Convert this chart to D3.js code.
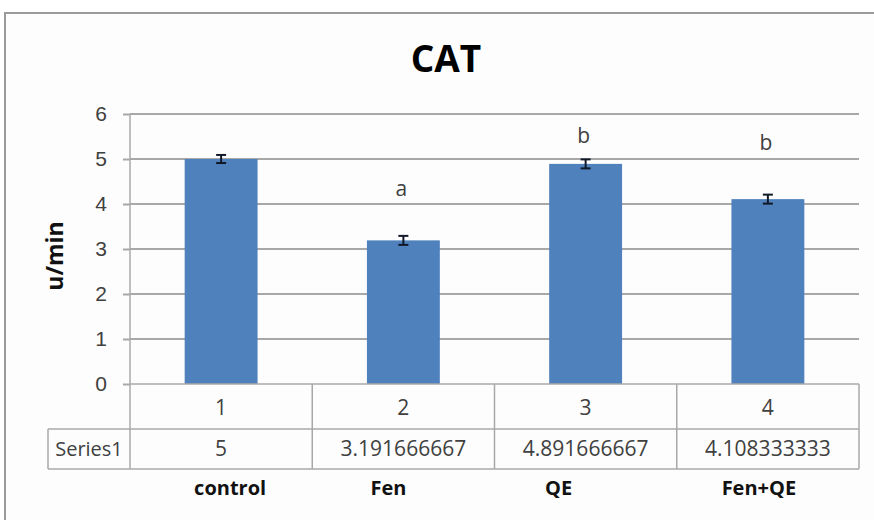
<!DOCTYPE html>
<html>
<head>
<meta charset="utf-8">
<script src="https://cdn.jsdelivr.net/npm/d3@7"></script>
<style>
  html, body { margin: 0; padding: 0; background: #fff; overflow: hidden; }
  svg { display: block; font-family: "Open Sans", "Liberation Sans", sans-serif; }
</style>
</head>
<body>
<svg id="chart" width="874" height="520"></svg>
<script>
// chart data
const categories = ["1", "2", "3", "4"];
const groupNames = ["control", "Fen", "QE", "Fen+QE"];
const seriesName = "Series1";
const values = [5, 3.191666667, 4.891666667, 4.108333333];
const valueLabels = ["5", "3.191666667", "4.891666667", "4.108333333"];
const errors = [0.09, 0.1, 0.1, 0.1];
const letters = ["", "a", "b", "b"];
const letterAt = [null, 4.18, 5.36, 5.2];
const yTicks = [0, 1, 2, 3, 4, 5, 6];

const svg = d3.select("#chart");
const W = 874, H = 520;
const plotLeft = 130, plotRight = 859, plotTop = 114, plotBottom = 384;
const rowMid = 429, rowEnd = 469, tableLeft = 48;
const gridColor = "#a8a8a8";
const textColor = "#404040";

// chart area background; the frame shows only on the left and top in this crop
svg.append("rect")
    .attr("x", 5).attr("y", 13)
    .attr("width", W - 5).attr("height", H - 13)
    .attr("fill", "#fdfdfd");
svg.append("line")
    .attr("x1", 5).attr("x2", 5).attr("y1", 12).attr("y2", H)
    .attr("stroke", "#9a9a9a").attr("stroke-width", 2);
svg.append("line")
    .attr("x1", 4).attr("x2", W).attr("y1", 13).attr("y2", 13)
    .attr("stroke", "#9a9a9a").attr("stroke-width", 2);

const x = d3.scaleBand()
    .domain(categories)
    .range([plotLeft, plotRight])
    .paddingInner(0.6)
    .paddingOuter(0.3);

const y = d3.scaleLinear().domain([0, 6]).range([plotBottom, plotTop]);

// gridlines
svg.append("g")
    .selectAll("line")
    .data(yTicks.filter(d => d > 0))
    .join("line")
    .attr("x1", plotLeft).attr("x2", plotRight)
    .attr("y1", d => y(d)).attr("y2", d => y(d))
    .attr("stroke", gridColor)
    .attr("stroke-width", 2);

// y axis
const yAxis = svg.append("g")
    .attr("transform", `translate(${plotLeft},0)`)
    .call(d3.axisLeft(y).tickValues(yTicks).tickSize(7).tickPadding(16).tickFormat(d3.format("d")));
yAxis.select(".domain").remove();
yAxis.selectAll(".tick line").attr("stroke", gridColor).attr("stroke-width", 2);
yAxis.selectAll(".tick text")
    .attr("fill", textColor)
    .style("font-size", "21px");

// y axis title
svg.append("text")
    .attr("transform", "translate(63,256) rotate(-90)")
    .attr("text-anchor", "middle")
    .attr("fill", "#111")
    .style("font-size", "23px")
    .style("font-weight", "bold")
    .text("u/min");

// title
svg.append("text")
    .attr("x", 446).attr("y", 72)
    .attr("text-anchor", "middle")
    .attr("fill", "#000")
    .style("font-size", "37px")
    .style("font-weight", "bold")
    .text("CAT");

// bars
svg.append("g")
    .selectAll("rect")
    .data(values)
    .join("rect")
    .attr("x", (d, i) => x(categories[i]))
    .attr("width", x.bandwidth())
    .attr("y", d => y(d))
    .attr("height", d => y(0) - y(d))
    .attr("fill", "#4f81bd");

// error bars
const eb = svg.append("g").attr("stroke", "#111827").attr("stroke-width", 2);
values.forEach((v, i) => {
    const cx = x(categories[i]) + x.bandwidth() / 2;
    eb.append("line")
        .attr("x1", cx).attr("x2", cx)
        .attr("y1", y(v + errors[i])).attr("y2", y(v - errors[i]));
    [v + errors[i], v - errors[i]].forEach(e => {
        eb.append("line")
            .attr("x1", cx - 5).attr("x2", cx + 5)
            .attr("y1", y(e)).attr("y2", y(e));
    });
});

// significance letters
svg.append("g")
    .selectAll("text")
    .data(letters)
    .join("text")
    .attr("x", (d, i) => x(categories[i]) + x.bandwidth() / 2 - 2)
    .attr("y", (d, i) => letterAt[i] == null ? 0 : y(letterAt[i]))
    .attr("text-anchor", "middle")
    .attr("fill", textColor)
    .style("font-size", "21px")
    .text(d => d);

// data table
const step = x.step();
const tg = svg.append("g").attr("stroke", gridColor).attr("stroke-width", 1.5);
tg.append("line").attr("x1", plotLeft).attr("x2", plotRight).attr("y1", plotBottom).attr("y2", plotBottom);
tg.append("line").attr("x1", tableLeft).attr("x2", plotRight).attr("y1", rowMid).attr("y2", rowMid);
tg.append("line").attr("x1", tableLeft).attr("x2", plotRight).attr("y1", rowEnd).attr("y2", rowEnd);
tg.append("line").attr("x1", plotLeft).attr("x2", plotLeft).attr("y1", plotTop).attr("y2", rowEnd);
tg.append("line").attr("x1", tableLeft).attr("x2", tableLeft).attr("y1", rowMid).attr("y2", rowEnd);
categories.forEach((c, i) => {
    const xe = plotLeft + step * (i + 1);
    tg.append("line").attr("x1", xe).attr("x2", xe).attr("y1", plotBottom).attr("y2", rowEnd);
});

const colCenter = i => x(categories[i]) + x.bandwidth() / 2;

svg.append("g")
    .selectAll("text")
    .data(categories)
    .join("text")
    .attr("x", (d, i) => colCenter(i))
    .attr("y", 415)
    .attr("text-anchor", "middle")
    .attr("fill", textColor)
    .style("font-size", "21px")
    .text(d => d);

svg.append("g")
    .selectAll("text")
    .data(valueLabels)
    .join("text")
    .attr("x", (d, i) => colCenter(i))
    .attr("y", 456)
    .attr("text-anchor", "middle")
    .attr("fill", textColor)
    .style("font-size", "21px")
    .text(d => d);

svg.append("text")
    .attr("x", (tableLeft + plotLeft) / 2)
    .attr("y", 456)
    .attr("text-anchor", "middle")
    .attr("fill", textColor)
    .style("font-size", "20px")
    .text(seriesName);

// group names under the table (typed off-centre in the original)
const nameNudge = [9, -15, -27, -9];
svg.append("g")
    .selectAll("text")
    .data(groupNames)
    .join("text")
    .attr("x", (d, i) => colCenter(i) + nameNudge[i])
    .attr("y", 495)
    .attr("text-anchor", "middle")
    .attr("fill", "#111")
    .style("font-size", "20px")
    .style("font-weight", "bold")
    .text(d => d);
</script>
</body>
</html>
